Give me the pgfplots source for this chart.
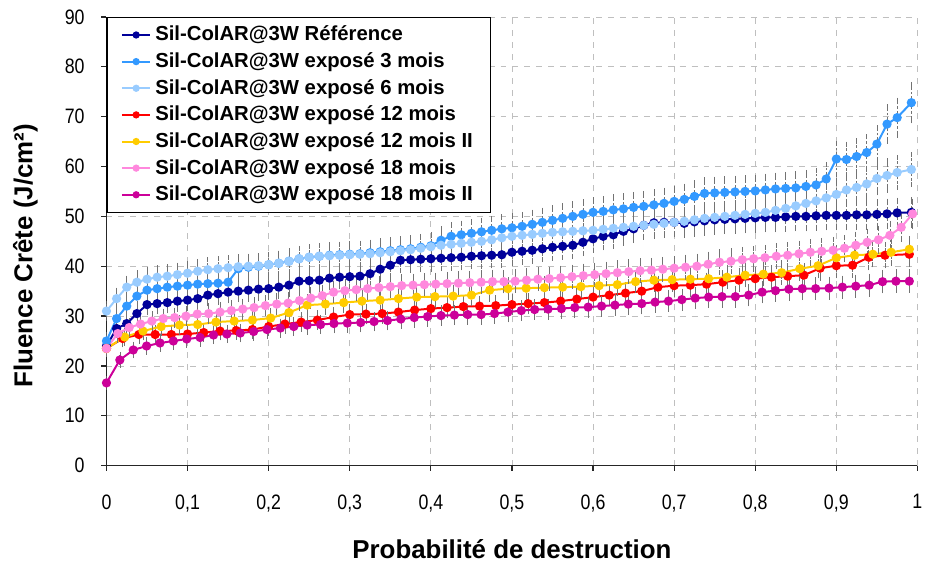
\documentclass[border=0pt]{standalone}
\usepackage{fontspec}
\setmainfont{Liberation Sans}
\newfontfamily\ticksfont[FakeStretch=0.85]{Liberation Sans}
\usepackage{pgfplots}
\pgfplotsset{compat=1.18}
\definecolor{cRef}{HTML}{000099}
\definecolor{cTrois}{HTML}{3399FF}
\definecolor{cSix}{HTML}{99CCFF}
\definecolor{cDouze}{HTML}{FF0000}
\definecolor{cDouzeB}{HTML}{FFCC00}
\definecolor{cDixHuit}{HTML}{FF88DD}
\definecolor{cDixHuitB}{HTML}{CC0099}
\pgfplotsset{
  ser/.style={mark=*, mark size=1.8pt, line width=1pt, color=#1, solid, mark options={solid, fill=#1},
    error bars/.cd, y dir=both, y fixed relative=0.05},
}
\begin{document}
\begin{tikzpicture}
\begin{axis}[
  scale only axis, width=407.5pt, height=225.5pt,
  xmin=0, xmax=1, ymin=0, ymax=90,
  xtick={0,0.1,...,1.01}, ytick={0,10,...,90},
  axis x line*=bottom, axis y line*=left,
  axis line style={black!85, line width=0.6pt},
  tick align=outside, major tick length=2.5pt, tick style={black!85, line width=0.6pt},
  xmajorgrids, ymajorgrids, grid style={black!25, dashed, line width=0.4pt},
  tick label style={font=\ticksfont\fontsize{10.5}{12}\selectfont},
  /pgf/number format/assume math mode=true, /pgf/number format/use comma,
  xticklabel style={yshift=-8.5pt}, yticklabel style={xshift=-5pt},
  xlabel={\bfseries Probabilité de destruction},
  ylabel={\bfseries Fluence Crête (J/cm²)},
  label style={font=\fontsize{13}{15}\selectfont},
  xlabel style={at={(axis description cs:0.5,-0.186)}, anchor=center},
  ylabel style={at={(axis description cs:-0.1,0.468)}, anchor=center},
  error bars/error bar style={black!55, dash pattern=on 1.2pt off 1pt, line width=0.35pt},
  error bars/error mark options={black!55, solid, mark size=1.3pt, line width=0.35pt},
  legend style={at={(0,1)}, anchor=north west, draw=black, line width=0.6pt, fill=white,
    font=\bfseries\fontsize{10.2}{12}\selectfont, inner xsep=7pt, inner ysep=2.3pt,
    row sep=0.4pt, cells={anchor=west}},
  legend image code/.code={\draw[mark repeat=2, mark phase=2, line width=1pt, mark size=1.3pt] plot coordinates {(0cm,0cm) (0.25cm,0cm) (0.5cm,0cm)};},
]
\addplot[ser=cRef] coordinates {
(0,24) (0.0125,27.5) (0.025,28.5) (0.0375,30.5) (0.05,32.3) (0.0625,32.5) (0.075,32.7) (0.0875,33) (0.1,33.2) (0.1125,33.5)
(0.125,34.2) (0.1375,34.5) (0.15,34.8) (0.1625,35) (0.175,35.2) (0.1875,35.4) (0.2,35.5) (0.2125,35.8) (0.225,36.2) (0.2375,37)
(0.25,37.1) (0.2625,37.2) (0.275,37.6) (0.2875,37.8) (0.3,37.9) (0.3125,38) (0.325,38.5) (0.3375,39.4) (0.35,40.2) (0.3625,41.2)
(0.375,41.3) (0.3875,41.4) (0.4,41.5) (0.4125,41.6) (0.425,41.7) (0.4375,41.8) (0.45,42) (0.4625,42.1) (0.475,42.2) (0.4875,42.3)
(0.5,42.8) (0.5125,43) (0.525,43.2) (0.5375,43.5) (0.55,43.8) (0.5625,44) (0.575,44.2) (0.5875,44.8) (0.6,45.5) (0.6125,46)
(0.625,46.3) (0.6375,47) (0.65,47.5) (0.6625,48.2) (0.675,48.7) (0.6875,48.8) (0.7,48.8) (0.7125,48.6) (0.725,48.9) (0.7375,49.1)
(0.75,49.3) (0.7625,49.4) (0.775,49.5) (0.7875,49.6) (0.8,49.7) (0.8125,49.8) (0.825,49.8) (0.8375,49.9) (0.85,50) (0.8625,50)
(0.875,50.1) (0.8875,50.2) (0.9,50.2) (0.9125,50.2) (0.925,50.3) (0.9375,50.3) (0.95,50.4) (0.9625,50.5) (0.975,50.7) (0.9925,50.8)};
\addlegendentry{Sil-ColAR@3W Référence}
\addplot[ser=cTrois] coordinates {
(0,25) (0.0125,29.5) (0.025,32) (0.0375,34) (0.05,35.2) (0.0625,35.5) (0.075,35.8) (0.0875,36) (0.1,36.2) (0.1125,36.4)
(0.125,36.5) (0.1375,36.6) (0.15,36.8) (0.1625,39.5) (0.175,39.8) (0.1875,40) (0.2,40.3) (0.2125,40.6) (0.225,41) (0.2375,41.5)
(0.25,41.8) (0.2625,42) (0.275,42.2) (0.2875,42.3) (0.3,42.4) (0.3125,42.5) (0.325,42.7) (0.3375,42.9) (0.35,43.1) (0.3625,43.3)
(0.375,43.5) (0.3875,43.8) (0.4,44.1) (0.4125,45.2) (0.425,46) (0.4375,46.3) (0.45,46.6) (0.4625,46.9) (0.475,47.2) (0.4875,47.5)
(0.5,47.7) (0.5125,48) (0.525,48.4) (0.5375,48.8) (0.55,49.2) (0.5625,49.6) (0.575,50) (0.5875,50.4) (0.6,50.8) (0.6125,51)
(0.625,51.3) (0.6375,51.5) (0.65,51.8) (0.6625,52) (0.675,52.3) (0.6875,52.6) (0.7,53) (0.7125,53.4) (0.725,54) (0.7375,54.6)
(0.75,54.7) (0.7625,54.8) (0.775,54.9) (0.7875,55) (0.8,55.1) (0.8125,55.3) (0.825,55.5) (0.8375,55.6) (0.85,55.7) (0.8625,56)
(0.875,56.3) (0.8875,57.5) (0.9,61.5) (0.9125,61.4) (0.925,62) (0.9375,62.8) (0.95,64.5) (0.9625,68.5) (0.975,69.8) (0.9925,72.8)};
\addlegendentry{Sil-ColAR@3W exposé 3 mois}
\addplot[ser=cSix] coordinates {
(0,31) (0.0125,33.5) (0.025,35.8) (0.0375,36.8) (0.05,37.4) (0.0625,37.8) (0.075,38) (0.0875,38.3) (0.1,38.6) (0.1125,39)
(0.125,39.3) (0.1375,39.5) (0.15,39.7) (0.1625,39.9) (0.175,40) (0.1875,40.1) (0.2,40.3) (0.2125,40.6) (0.225,41) (0.2375,41.5)
(0.25,41.8) (0.2625,42) (0.275,42.1) (0.2875,42.2) (0.3,42.3) (0.3125,42.4) (0.325,42.5) (0.3375,42.7) (0.35,42.9) (0.3625,43.1)
(0.375,43.3) (0.3875,43.6) (0.4,43.9) (0.4125,44.2) (0.425,44.4) (0.4375,44.6) (0.45,44.8) (0.4625,45) (0.475,45.3) (0.4875,45.7)
(0.5,46) (0.5125,46.2) (0.525,46.4) (0.5375,46.6) (0.55,46.8) (0.5625,46.9) (0.575,47) (0.5875,47.1) (0.6,47.2) (0.6125,47.4)
(0.625,47.6) (0.6375,47.8) (0.65,48) (0.6625,48.2) (0.675,48.4) (0.6875,48.6) (0.7,48.8) (0.7125,49) (0.725,49.3) (0.7375,49.6)
(0.75,49.8) (0.7625,50) (0.775,50.2) (0.7875,50.4) (0.8,50.6) (0.8125,50.8) (0.825,51.2) (0.8375,51.6) (0.85,52.1) (0.8625,52.6)
(0.875,53.1) (0.8875,53.7) (0.9,54.4) (0.9125,55.3) (0.925,55.8) (0.9375,56.5) (0.95,57.6) (0.9625,58.2) (0.975,58.8) (0.9925,59.4)};
\addlegendentry{Sil-ColAR@3W exposé 6 mois}
\addplot[ser=cDouze] coordinates {
(0,23.5) (0.02,25.5) (0.04,26.3) (0.06,26.3) (0.08,26.3) (0.1,26.4) (0.12,26.7) (0.14,27) (0.16,27.1) (0.18,27.3)
(0.2,27.9) (0.22,28.4) (0.24,28.8) (0.26,29.2) (0.28,29.8) (0.3,30.3) (0.32,30.4) (0.34,30.5) (0.36,30.8) (0.38,31.2)
(0.4,31.5) (0.42,31.7) (0.44,31.9) (0.46,32) (0.48,32.1) (0.5,32.3) (0.52,32.5) (0.54,32.7) (0.56,33) (0.58,33.4)
(0.6,33.8) (0.62,34.2) (0.64,34.6) (0.66,35) (0.68,35.8) (0.7,36.1) (0.72,36.2) (0.74,36.4) (0.76,36.8) (0.78,37.2)
(0.8,37.5) (0.82,37.8) (0.84,38) (0.86,38.2) (0.88,39.6) (0.9,40.1) (0.92,40.2) (0.94,41.8) (0.96,42.2) (0.99,42.4)};
\addlegendentry{Sil-ColAR@3W exposé 12 mois}
\addplot[ser=cDouzeB] coordinates {
(0,23.5) (0.0225,25.8) (0.045,27) (0.0675,27.9) (0.09,28.2) (0.1125,28.3) (0.135,28.8) (0.1575,29) (0.18,29.2) (0.2025,29.6)
(0.225,30.7) (0.2475,32.2) (0.27,32.4) (0.2925,32.7) (0.315,33) (0.3375,33.2) (0.36,33.5) (0.3825,33.8) (0.405,33.9) (0.4275,34)
(0.45,34.2) (0.4725,35.2) (0.495,35.5) (0.5175,35.6) (0.54,35.7) (0.5625,35.8) (0.585,35.9) (0.6075,36.1) (0.63,36.3) (0.6525,36.9)
(0.675,37.2) (0.6975,37.3) (0.72,37.4) (0.7425,37.5) (0.765,37.8) (0.7875,38.2) (0.81,38.4) (0.8325,38.7) (0.855,39.5) (0.8775,40.1)
(0.9,41.7) (0.9225,42.2) (0.945,42.4) (0.9675,42.8) (0.99,43.4)};
\addlegendentry{Sil-ColAR@3W exposé 12 mois II}
\addplot[ser=cDixHuit] coordinates {
(0,23.5) (0.014,26.5) (0.028,27.7) (0.042,28.4) (0.056,29) (0.07,29.5) (0.084,29.7) (0.098,30) (0.112,30.4) (0.126,30.5)
(0.14,30.8) (0.154,31.1) (0.168,31.4) (0.182,31.7) (0.196,32.1) (0.21,32.4) (0.224,32.6) (0.238,33.1) (0.252,33.6) (0.266,34.1)
(0.28,34.8) (0.294,35.1) (0.308,35.3) (0.322,35.5) (0.336,35.7) (0.35,35.9) (0.364,36.1) (0.378,36.2) (0.392,36.3) (0.406,36.4)
(0.42,36.5) (0.434,36.6) (0.448,36.7) (0.462,36.8) (0.476,36.9) (0.49,36.9) (0.504,37) (0.518,37.2) (0.532,37.4) (0.546,37.5)
(0.56,37.7) (0.574,37.9) (0.588,38.1) (0.602,38.3) (0.616,38.5) (0.63,38.7) (0.644,38.9) (0.658,39.1) (0.672,39.2) (0.686,39.4)
(0.7,39.6) (0.714,39.8) (0.728,40) (0.742,40.4) (0.756,40.8) (0.77,41) (0.784,41.3) (0.798,41.5) (0.812,41.7) (0.826,42)
(0.84,42.2) (0.854,42.5) (0.868,42.8) (0.882,43) (0.896,43.2) (0.91,43.6) (0.924,44.2) (0.938,44.8) (0.952,45.3) (0.966,46.2)
(0.98,47.8) (0.994,50.5)};
\addlegendentry{Sil-ColAR@3W exposé 18 mois}
\addplot[ser=cDixHuitB] coordinates {
(0,16.6) (0.0165,21.2) (0.033,23.2) (0.0495,24) (0.066,24.6) (0.0825,25) (0.099,25.4) (0.1155,25.7) (0.132,26.2) (0.1485,26.4)
(0.165,26.6) (0.1815,26.9) (0.198,27.3) (0.2145,27.6) (0.231,27.9) (0.2475,28.2) (0.264,28.3) (0.2805,28.5) (0.297,28.6) (0.3135,28.7)
(0.33,28.9) (0.3465,29.1) (0.363,29.4) (0.3795,29.7) (0.396,29.9) (0.4125,30.1) (0.429,30.2) (0.4455,30.3) (0.462,30.3) (0.4785,30.5)
(0.495,30.8) (0.5115,31.1) (0.528,31.3) (0.5445,31.4) (0.561,31.5) (0.5775,31.7) (0.594,31.8) (0.6105,32) (0.627,32.2) (0.6435,32.4)
(0.66,32.5) (0.6765,32.8) (0.693,33) (0.7095,33.3) (0.726,33.6) (0.7425,33.8) (0.759,33.9) (0.7755,33.9) (0.792,34.2) (0.8085,34.8)
(0.825,35.1) (0.8415,35.4) (0.858,35.5) (0.8745,35.5) (0.891,35.6) (0.9075,35.8) (0.924,36) (0.9405,36.2) (0.957,36.9) (0.9735,37)
(0.99,37)};
\addlegendentry{Sil-ColAR@3W exposé 18 mois II}
\end{axis}
\path ([shift={(-53.5pt,-50.5pt)}]current axis.south west) rectangle ([shift={(3.5pt,8.5pt)}]current axis.north east);
\end{tikzpicture}
\end{document}
